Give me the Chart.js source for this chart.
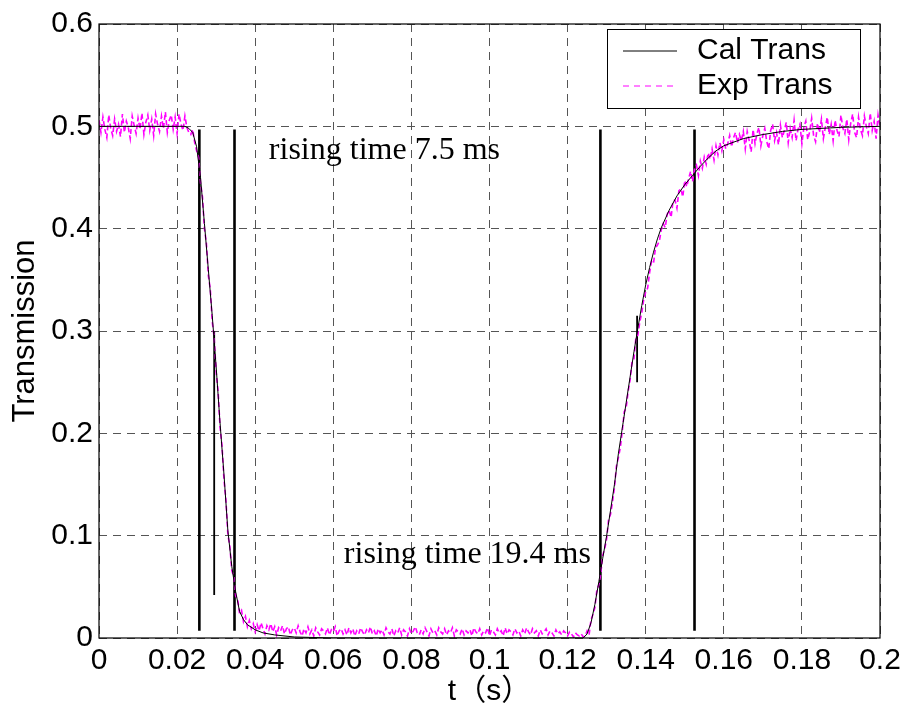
<!DOCTYPE html>
<html>
<head>
<meta charset="utf-8">
<script src="https://cdn.jsdelivr.net/npm/chart.js@4.4.1/dist/chart.umd.min.js"></script>
<style>
  html, body { margin: 0; padding: 0; background: #ffffff; }
  #wrap { width: 906px; height: 711px; }
</style>
</head>
<body>
<div id="wrap"><canvas id="c" width="906" height="711"></canvas></div>
<script>
// Axis ticks
const xTickValues = [0, 0.02, 0.04, 0.06, 0.08, 0.1, 0.12, 0.14, 0.16, 0.18, 0.2];
const xTickLabels = ['0', '0.02', '0.04', '0.06', '0.08', '0.1', '0.12', '0.14', '0.16', '0.18', '0.2'];
const yTickValues = [0, 0.1, 0.2, 0.3, 0.4, 0.5, 0.6];
const yTickLabels = ['0', '0.1', '0.2', '0.3', '0.4', '0.5', '0.6'];

// Calculated transmission (smooth model curve)
const calT = [0, 0.022, 0.023, 0.024, 0.025, 0.026, 0.027, 0.028, 0.029, 0.030, 0.031, 0.032, 0.033, 0.034, 0.035, 0.036, 0.037, 0.038,
  0.040, 0.042, 0.045, 0.050, 0.060, 0.124,
  0.125, 0.126, 0.127, 0.128, 0.129, 0.130, 0.131, 0.132, 0.133, 0.134, 0.135, 0.136, 0.137, 0.138, 0.139, 0.140, 0.141, 0.142, 0.143, 0.144,
  0.146, 0.148, 0.150, 0.152, 0.154, 0.156, 0.158, 0.160, 0.165, 0.170, 0.175, 0.180, 0.190, 0.200];
const calV = [0.5, 0.5, 0.498, 0.494, 0.48, 0.45, 0.405, 0.36, 0.315, 0.265, 0.21, 0.16, 0.105, 0.07, 0.045, 0.026, 0.018, 0.013,
  0.008, 0.005, 0.003, 0.001, 0, 0,
  0.004, 0.015, 0.033, 0.055, 0.078, 0.1, 0.125, 0.15, 0.18, 0.205, 0.23, 0.255, 0.28, 0.303, 0.325, 0.345, 0.362, 0.377, 0.39, 0.401,
  0.418, 0.432, 0.443, 0.452, 0.461, 0.469, 0.476, 0.481, 0.488, 0.492, 0.495, 0.497, 0.499, 0.5];

// Measured transmission, sampled every 0.5 ms, in five stretches
const expStep = 0.0005;
const expHighStart = 0;
const expHigh = [
  0.506, 0.494, 0.509, 0.497, 0.489, 0.511, 0.498, 0.491, 0.507, 0.495,
  0.502, 0.490, 0.512, 0.494, 0.505, 0.499, 0.488, 0.510, 0.501, 0.493,
  0.508, 0.497, 0.513, 0.492, 0.504, 0.511, 0.496, 0.507, 0.491, 0.512,
  0.502, 0.495, 0.510, 0.498, 0.514, 0.494, 0.506, 0.511, 0.497, 0.509,
  0.493, 0.512, 0.502, 0.496, 0.510, 0.499, 0.494];
const expFallStart = 0.0235;
const expFall = [
  0.492, 0.497, 0.484, 0.476, 0.470, 0.445, 0.431, 0.400, 0.386, 0.354,
  0.341, 0.309, 0.293, 0.260, 0.241, 0.206, 0.188, 0.155, 0.135, 0.101,
  0.090, 0.066, 0.060, 0.041, 0.038, 0.024, 0.027, 0.016, 0.021, 0.011,
  0.017, 0.009, 0.014, 0.006];
const expLowStart = 0.0405;
const expLow = [
  0.013, 0.007, 0.015, 0.009, 0.004, 0.012, 0.008, 0.014, 0.006, 0.011, 0.003, 0.010,
  0.007, 0.012, 0.004, 0.009, 0.011, 0.003, 0.008, 0.010, 0.005, 0.012, 0.006, 0.002,
  0.009, 0.005, 0.011, 0.004, 0.008, 0.002, 0.010, 0.006, 0.003, 0.009, 0.007, 0.004,
  0.010, 0.003, 0.008, 0.006, 0.011, 0.002, 0.007, 0.009, 0.004, 0.008, 0.003, 0.010,
  0.005, 0.009, 0.002, 0.007, 0.004, 0.010, 0.006, 0.003, 0.008, 0.005, 0.011, 0.004,
  0.007, 0.002, 0.009, 0.005, 0.008, 0.003, 0.010, 0.006, 0.004, 0.009, 0.002, 0.007,
  0.005, 0.010, 0.003, 0.008, 0.006, 0.002, 0.009, 0.004, 0.007, 0.011, 0.005, 0.003,
  0.008, 0.004, 0.010, 0.006, 0.002, 0.009, 0.005, 0.007, 0.003, 0.010, 0.006, 0.004,
  0.009, 0.003, 0.007, 0.005, 0.010, 0.002, 0.008, 0.006, 0.004, 0.009, 0.003, 0.007,
  0.005, 0.008, 0.002, 0.010, 0.006, 0.004, 0.009, 0.003, 0.007, 0.005, 0.010, 0.002,
  0.008, 0.006, 0.003, 0.009, 0.005, 0.007, 0.002, 0.010, 0.004, 0.008, 0.006, 0.003,
  0.009, 0.005, 0.007, 0.002, 0.008, 0.004, 0.010, 0.006, 0.003, 0.009, 0.005, 0.007,
  0.002, 0.008, 0.004, 0.006, 0.009, 0.003, 0.007, 0.005, 0.002, 0.008, 0.004, 0.006,
  0.003, 0.007, 0.005, 0.002, 0.006, 0.004, 0.001, 0.005, 0.003, 0.002, 0.004, 0.001];
const expRiseStart = 0.1245;
const expRise = [
  0.002, 0.007, 0.003, 0.018, 0.023, 0.030, 0.047, 0.052, 0.063, 0.081,
  0.087, 0.097, 0.116, 0.121, 0.133, 0.147, 0.168, 0.176, 0.186, 0.202,
  0.221, 0.225, 0.241, 0.252, 0.270, 0.273, 0.294, 0.296, 0.309, 0.318,
  0.331, 0.338, 0.342, 0.357, 0.368, 0.366, 0.381, 0.384, 0.388, 0.399,
  0.405, 0.401, 0.414, 0.418, 0.411, 0.427, 0.428, 0.420, 0.437, 0.439,
  0.431, 0.447, 0.441, 0.449, 0.456, 0.446, 0.458, 0.462, 0.452, 0.466,
  0.459, 0.470, 0.463, 0.474, 0.468, 0.478, 0.467, 0.481, 0.472, 0.484,
  0.476, 0.487, 0.478, 0.483, 0.491, 0.480, 0.489, 0.494, 0.484, 0.492,
  0.486, 0.495];
const expTailStart = 0.1655;
const expTail = [
  0.478, 0.495, 0.486, 0.475, 0.497, 0.483, 0.493, 0.499, 0.481, 0.491,
  0.498, 0.485, 0.478, 0.496, 0.502, 0.486, 0.494, 0.482, 0.501, 0.489,
  0.496, 0.504, 0.484, 0.498, 0.489, 0.506, 0.486, 0.497, 0.502, 0.483,
  0.499, 0.505, 0.487, 0.495, 0.508, 0.491, 0.485, 0.503, 0.494, 0.507,
  0.488, 0.499, 0.509, 0.492, 0.502, 0.486, 0.506, 0.496, 0.490, 0.511,
  0.498, 0.493, 0.507, 0.487, 0.503, 0.512, 0.494, 0.489, 0.509, 0.497,
  0.491, 0.510, 0.500, 0.493, 0.513, 0.496, 0.505, 0.488, 0.511, 0.499];

// Rise/fall time markers (vertical bars)
const longMarkT = [0.0257, 0.0347, 0.1284, 0.1525];
const longMarkTop = 0.497;
const longMarkBottom = 0.007;
const shortMarkT = [0.0295, 0.1378];
const shortMarkTop = [0.30, 0.315];
const shortMarkBottom = [0.042, 0.25];

// Text notes placed in data coordinates (left edge, baseline)
const noteText = ['rising time 7.5 ms', 'rising time 19.4 ms'];
const noteT = [0.0435, 0.0627];
const noteV = [0.4685, 0.073];

// Legend entries
const seriesNames = ['Cal Trans', 'Exp Trans'];

const SANS = "'Liberation Sans', Arial, 'Noto Sans CJK SC', sans-serif";
const SERIF = "'Liberation Serif', 'Times New Roman', serif";
const MAGENTA = '#ff00ff';

function stretch(start, values) {
  return values.map((v, i) => ({ x: +(start + i * expStep).toFixed(4), y: v }));
}
const expPoints = [].concat(
  stretch(expHighStart, expHigh),
  stretch(expFallStart, expFall),
  stretch(expLowStart, expLow),
  stretch(expRiseStart, expRise),
  stretch(expTailStart, expTail)
);
const calPoints = calT.map((t, i) => ({ x: t, y: calV[i] }));

const markerSets = [];
longMarkT.forEach(t => {
  markerSets.push({
    data: [{ x: t, y: longMarkTop }, { x: t, y: longMarkBottom }],
    borderColor: '#000', borderWidth: 2.6, pointRadius: 0, order: 3, label: ''
  });
});
shortMarkT.forEach((t, i) => {
  markerSets.push({
    data: [{ x: t, y: shortMarkTop[i] }, { x: t, y: shortMarkBottom[i] }],
    borderColor: '#000', borderWidth: 1.8, pointRadius: 0, order: 3, label: ''
  });
});

// Boxed legend in the upper right of the plot
const boxLegend = {
  id: 'boxLegend',
  afterDraw(chart) {
    const { ctx, chartArea: a } = chart;
    const w = 253, h = 79;
    const x0 = a.right - 20 - w, y0 = a.top + 5;
    ctx.save();
    ctx.fillStyle = '#fff';
    ctx.fillRect(x0, y0, w, h);
    ctx.strokeStyle = '#000';
    ctx.lineWidth = 1;
    ctx.strokeRect(x0 + 0.5, y0 + 0.5, w, h);
    const rows = [y0 + 22, y0 + 57];
    // Cal Trans sample
    ctx.beginPath();
    ctx.moveTo(x0 + 16, rows[0]); ctx.lineTo(x0 + 70, rows[0]);
    ctx.strokeStyle = '#000'; ctx.lineWidth = 1; ctx.setLineDash([]);
    ctx.stroke();
    // Exp Trans sample
    ctx.beginPath();
    ctx.moveTo(x0 + 16, rows[1]); ctx.lineTo(x0 + 70, rows[1]);
    ctx.strokeStyle = MAGENTA; ctx.lineWidth = 1; ctx.setLineDash([6, 5]);
    ctx.stroke();
    ctx.setLineDash([]);
    ctx.fillStyle = '#000';
    ctx.font = '30px ' + SANS;
    ctx.textBaseline = 'middle';
    ctx.textAlign = 'left';
    ctx.fillText(seriesNames[0], x0 + 90, rows[0]);
    ctx.fillText(seriesNames[1], x0 + 90, rows[1]);
    ctx.restore();
  }
};

// Axes frame and text notes
const frameAndNotes = {
  id: 'frameAndNotes',
  afterDatasetsDraw(chart) {
    const { ctx, chartArea: a, scales } = chart;
    ctx.save();
    ctx.fillStyle = '#000';
    ctx.font = '32px ' + SERIF;
    ctx.textBaseline = 'alphabetic';
    ctx.textAlign = 'left';
    noteText.forEach((txt, i) => {
      ctx.fillText(txt, scales.x.getPixelForValue(noteT[i]), scales.y.getPixelForValue(noteV[i]));
    });
    ctx.strokeStyle = '#000';
    ctx.lineWidth = 1.2;
    ctx.setLineDash([]);
    ctx.strokeRect(a.left, a.top, a.right - a.left, a.bottom - a.top);
    ctx.restore();
  }
};

new Chart(document.getElementById('c'), {
  type: 'line',
  data: {
    datasets: [
      {
        label: seriesNames[0], data: calPoints,
        borderColor: '#000', borderWidth: 1, pointRadius: 0, tension: 0, order: 1
      },
      {
        label: seriesNames[1], data: expPoints,
        borderColor: MAGENTA, borderWidth: 1.6, borderDash: [5, 3], pointRadius: 0, tension: 0, order: 2
      }
    ].concat(markerSets)
  },
  options: {
    responsive: false,
    animation: false,
    events: [],
    layout: { padding: { top: 22, right: 26, left: 0, bottom: 0 } },
    plugins: { legend: { display: false }, tooltip: { enabled: false } },
    scales: {
      x: {
        type: 'linear', min: 0, max: 0.2,
        afterBuildTicks: s => { s.ticks = xTickValues.map(v => ({ value: v })); },
        afterFit: s => { s.height = 73; },
        ticks: {
          callback: (v, i) => xTickLabels[i],
          font: { family: SANS, size: 30 }, color: '#000',
          padding: 5, maxRotation: 0, autoSkip: false
        },
        grid: { color: '#555', lineWidth: 1, drawTicks: false },
        border: { display: false, dash: [8, 6] },
        title: {
          display: true, text: 't（s）', color: '#000',
          font: { family: SANS, size: 30 }, padding: { top: 0, bottom: 1 }
        }
      },
      y: {
        type: 'linear', min: 0, max: 0.6,
        afterBuildTicks: s => { s.ticks = yTickValues.map(v => ({ value: v })); },
        afterFit: s => { s.width = 99; },
        ticks: {
          callback: (v, i) => yTickLabels[i],
          font: { family: SANS, size: 30 }, color: '#000',
          padding: 6, autoSkip: false
        },
        grid: { color: '#555', lineWidth: 1, drawTicks: false },
        border: { display: false, dash: [8, 6] },
        title: {
          display: true, text: 'Transmission', color: '#000',
          font: { family: SANS, size: 31 }, padding: { top: 7, bottom: 0 }
        }
      }
    }
  },
  plugins: [frameAndNotes, boxLegend]
});
</script>
</body>
</html>
